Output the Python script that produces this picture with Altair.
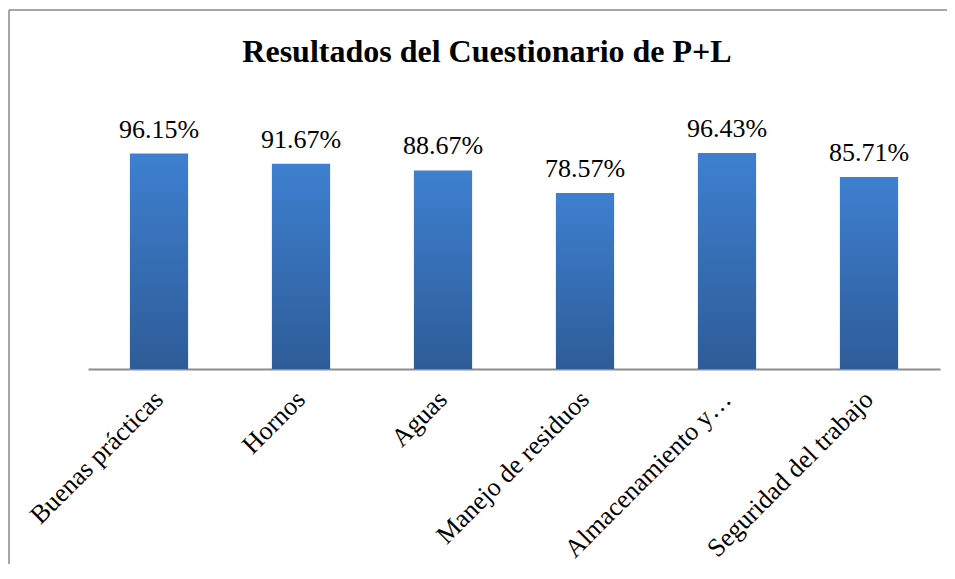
import altair as alt
import pandas as pd

categories = ["Buenas prácticas", "Hornos", "Aguas", "Manejo de residuos",
              "Almacenamiento y…", "Seguridad del trabajo"]
values = [96.15, 91.67, 88.67, 78.57, 96.43, 85.71]
value_labels = ["96.15%", "91.67%", "88.67%", "78.57%", "96.43%", "85.71%"]

df = pd.DataFrame({"cat": categories, "val": values, "lbl": value_labels})

SERIF = "Liberation Serif"

x_enc = alt.X(
    "cat:N", sort=categories,
    scale=alt.Scale(paddingInner=0.59, paddingOuter=0.295),
    axis=alt.Axis(title=None, labelAngle=-45, labelFont=SERIF, labelFontSize=26,
                  labelColor="black", labelPadding=26, labelLimit=400, ticks=False,
                  labelBaseline="middle", labelAlign="right",
                  domainColor="#8c8c8c", domainWidth=2, grid=False),
)
y_enc = alt.Y("val:Q", scale=alt.Scale(domain=[0, 100]), axis=None)

grad = alt.Gradient(
    gradient="linear",
    stops=[alt.GradientStop(color="#3E80D0", offset=0),
           alt.GradientStop(color="#2E5C98", offset=1)],
    x1=0, x2=0, y1=0, y2=1,
)

base = alt.Chart(df)
bars = base.mark_bar(color=grad).encode(x=x_enc, y=y_enc)
texts = base.mark_text(dy=-16, baseline="alphabetic", font=SERIF, fontSize=26,
                       color="black").encode(x=x_enc, y=y_enc, text="lbl:N")

frame_df = pd.DataFrame({"k": [0]})
left_line = alt.Chart(frame_df).mark_rule(color="#888888", strokeWidth=1.5).encode(
    x=alt.value(-79), y=alt.value(-135), y2=alt.value(500))
top_line = alt.Chart(frame_df).mark_rule(color="#888888", strokeWidth=1.5).encode(
    x=alt.value(-79), x2=alt.value(859), y=alt.value(-135))

chart = alt.layer(left_line, top_line, bars, texts).properties(
    width=852, height=224,
    title=alt.Title("Resultados del Cuestionario de P+L", font=SERIF, fontSize=32,
                    fontWeight="bold", color="black", anchor="middle", dx=-27,
                    baseline="alphabetic", offset=-85),
    autosize=alt.AutoSizeParams(type="none"),
    padding={"left": 80, "top": 137, "right": 7, "bottom": 195},
).configure_view(stroke=None)

chart.save("out.html", embed_options={"renderer": "svg", "actions": False})
